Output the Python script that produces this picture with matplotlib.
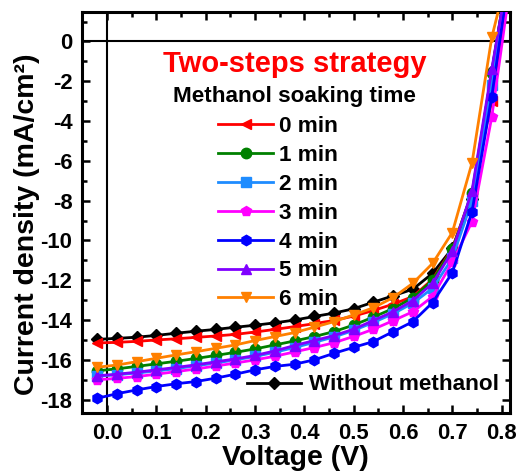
import matplotlib
matplotlib.use("Agg")
import matplotlib.pyplot as plt
from matplotlib.ticker import MultipleLocator, FormatStrFormatter
from matplotlib.lines import Line2D

plt.rcParams['font.family'] = ['Liberation Sans', 'DejaVu Sans']
plt.rcParams['font.weight'] = 'bold'
plt.rcParams['axes.unicode_minus'] = False

# Voltage grid (V); last point only carries the line off the top of the plot
voltage = [-0.02, 0.02, 0.06, 0.10, 0.14, 0.18, 0.22, 0.26, 0.30, 0.34, 0.38,
           0.42, 0.46, 0.50, 0.54, 0.58, 0.62, 0.66, 0.70, 0.74, 0.78, 0.82]

j_0min = [-15.15, -15.12, -15.07, -15.00, -14.94, -14.87, -14.80, -14.72, -14.60, -14.47, -14.33,
          -14.18, -14.02, -13.80, -13.52, -13.20, -12.82, -11.95, -10.40, -7.60, -3.00, 4.2]
j_1min = [-16.55, -16.45, -16.33, -16.20, -16.07, -15.93, -15.78, -15.62, -15.45, -15.25, -15.05,
          -14.83, -14.58, -14.25, -13.85, -13.42, -12.88, -12.00, -10.45, -7.60, -1.60, 4.6]
j_2min = [-16.82, -16.75, -16.66, -16.56, -16.44, -16.30, -16.16, -16.00, -15.83, -15.62, -15.38,
          -15.12, -14.85, -14.52, -14.12, -13.68, -13.15, -12.40, -10.90, -8.00, -2.20, 4.2]
j_3min = [-17.00, -16.93, -16.84, -16.72, -16.59, -16.46, -16.31, -16.16, -16.00, -15.82, -15.60,
          -15.38, -15.14, -14.82, -14.46, -14.03, -13.58, -12.82, -11.10, -9.05, -3.80, 3.3]
j_4min = [-17.93, -17.70, -17.51, -17.34, -17.20, -17.09, -16.92, -16.72, -16.50, -16.33, -16.22,
          -16.00, -15.67, -15.37, -15.08, -14.58, -14.08, -13.12, -11.62, -8.55, -2.77, 4.1]
j_5min = [-16.80, -16.72, -16.62, -16.50, -16.38, -16.25, -16.10, -15.95, -15.78, -15.55, -15.28,
          -15.03, -14.78, -14.46, -14.02, -13.58, -13.02, -12.15, -10.55, -7.50, -1.40, 4.4]
j_6min = [-16.37, -16.26, -16.09, -15.92, -15.75, -15.59, -15.42, -15.25, -15.03, -14.83, -14.63,
          -14.36, -14.08, -13.74, -13.38, -12.87, -12.15, -11.15, -9.60, -6.10, 0.20, 4.2]
j_without = [-14.97, -14.92, -14.86, -14.77, -14.66, -14.56, -14.47, -14.36, -14.26, -14.14, -14.00,
             -13.82, -13.65, -13.43, -13.10, -12.78, -12.45, -11.65, -10.40, -7.90, -1.50, 4.5]

labels = ['0 min', '1 min', '2 min', '3 min', '4 min', '5 min', '6 min']
series = [j_0min, j_1min, j_2min, j_3min, j_4min, j_5min, j_6min]
colors = ['#FF0000', '#008000', '#1E8CFF', '#FF00FF', '#0000FF', '#8000FF', '#FF8000']
markers = ['<', 'o', 's', 'p', 'h', '^', 'v']

fig = plt.figure(figsize=(5.23, 4.76), dpi=100)
ax = fig.add_axes([82/523, 1-413/476, 428/523, 401/476])

nmark = len(voltage) - 1
ax.plot(voltage, j_without, color='black', marker='D', markersize=6.5, lw=2.0,
        markevery=list(range(nmark)), zorder=2)
handles = []
for lab, y, c, m in zip(labels, series, colors, markers):
    h, = ax.plot(voltage, y, color=c, marker=m, markersize=7.5, lw=2.0,
                 markevery=list(range(nmark)), label=lab, zorder=3)
    handles.append(h)

ax.axhline(0, color='black', lw=1.5, zorder=1)
ax.axvline(0, color='black', lw=1.5, zorder=1)

ax.set_xlim(-0.051, 0.817)
ax.set_ylim(-18.67, 1.48)
ax.xaxis.set_major_locator(MultipleLocator(0.1))
ax.xaxis.set_minor_locator(MultipleLocator(0.05))
ax.xaxis.set_major_formatter(FormatStrFormatter('%.1f'))
ax.yaxis.set_major_locator(MultipleLocator(2))
ax.yaxis.set_minor_locator(MultipleLocator(1))
ax.tick_params(which='both', direction='in', top=True, right=True, width=1.8)
ax.tick_params(which='major', length=6, labelsize=15.8, pad=7)
ax.tick_params(which='minor', length=3.5)
for t in ax.get_xticklabels() + ax.get_yticklabels():
    t.set_fontweight('bold')
for s in ax.spines.values():
    s.set_linewidth(2.2)

ax.set_xlabel('Voltage (V)', fontsize=20.5, fontweight='bold')
ax.set_ylabel('Current density (mA/cm\u00b2)', fontsize=20.5, fontweight='bold')
ax.xaxis.set_label_coords((295-82)/428, (413-445)/401)
ax.yaxis.set_label_coords((40-82)/428, (413-224)/401)

fig.text(295/523, 1-71.7/476, 'Two-steps strategy', color='#FF0000', fontsize=21,
         fontweight='bold', ha='center', va='baseline')
fig.text(294/523, 1-101.7/476, 'Methanol soaking time', color='black', fontsize=16.2,
         fontweight='bold', ha='center', va='baseline')

leg1 = fig.legend(handles=handles, loc='upper left', bbox_to_anchor=(218/523, 1-116/476),
                  frameon=False, borderpad=0, borderaxespad=0, handlelength=2.45,
                  handletextpad=0.27, labelspacing=0.35,
                  prop={'size': 16.2, 'weight': 'bold'})
wh = Line2D([], [], color='black', marker='D', markersize=6.5, lw=2.0)
leg2 = fig.legend(handles=[wh], labels=['Without methanol'], loc='center left',
                  bbox_to_anchor=(247/523, 1-385/476), frameon=False, borderpad=0,
                  borderaxespad=0, handlelength=2.4, handletextpad=0.35,
                  prop={'size': 16.2, 'weight': 'bold'})

fig.savefig('out.png', dpi=100)
